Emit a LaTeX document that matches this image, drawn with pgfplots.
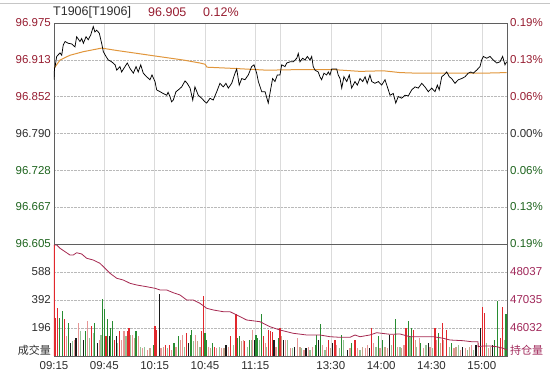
\documentclass[border=0pt]{standalone}
\usepackage{fontspec}
\setmainfont{Liberation Sans}
\newfontfamily\cjk{Noto Sans CJK SC}
\usepackage{pgfplots}
\pgfplotsset{compat=1.18}
\definecolor{upred}{RGB}{150,28,48}
\definecolor{dngreen}{RGB}{30,100,30}
\definecolor{oicol}{RGB}{160,40,90}
\definecolor{oiline}{RGB}{165,40,80}
\definecolor{avgcol}{RGB}{225,150,60}
\definecolor{lblgray}{RGB}{45,45,45}
\definecolor{vred}{RGB}{225,40,45}
\definecolor{vgreen}{RGB}{40,140,50}
\definecolor{vblack}{RGB}{25,25,25}
\definecolor{vpink}{RGB}{230,150,150}
\definecolor{vlgreen}{RGB}{150,195,150}
\definecolor{vtan}{RGB}{200,165,140}
\definecolor{framecol}{RGB}{95,95,95}
\newcommand{\lbl}{\fontsize{11.5}{12}\selectfont}
\pgfplotsset{
  panel/.style={scale only axis, width=453pt, xmin=0, xmax=270,
    major tick length=0pt, scaled ticks=false,
    tick label style={font=\lbl},
    yticklabel style={inner sep=1pt, xshift=-2pt},
    axis line style={framecol, line width=0.7pt},
    xtick={0,30,60,90,120,135,165,195,225,255},
    x grid style={gray!28, line width=0.5pt},
    y grid style={gray!55, densely dotted, line width=0.5pt},
    xmajorgrids, ymajorgrids},
  rightpanel/.style={scale only axis, width=453pt, xmin=0, xmax=270,
    major tick length=0pt, scaled ticks=false,
    tick label style={font=\lbl},
    yticklabel style={inner sep=1pt, xshift=2pt},
    axis x line=none, axis y line*=right,
    axis line style={draw=none}},
}
\begin{document}
\begin{tikzpicture}
% ---------- price pane ----------
\begin{axis}[panel, at={(0,112pt)}, anchor=south west, height=221pt,
  ymin=96.605, ymax=96.975, xticklabels={},
  ytick={96.605,96.667,96.728,96.790,96.852,96.913,96.975},
  yticklabels={\textcolor{dngreen}{96.605},\textcolor{dngreen}{96.667},\textcolor{dngreen}{96.728},\textcolor{lblgray}{96.790},\textcolor{upred}{96.852},\textcolor{upred}{96.913},\textcolor{upred}{96.975}}]
\addplot[avgcol, line width=1pt] coordinates {
(0,96.899)(3.6,96.913)(9.5,96.921)(17.5,96.927)(28.4,96.933)(37.4,96.929)
(57.2,96.921)(77.1,96.913)(87.0,96.908)(90,96.906)(91.2,96.901)(106.9,96.899)
(126.8,96.896)(146.6,96.897)(166.5,96.897)(182.4,96.894)(196.3,96.895)
(206.2,96.892)(216.2,96.891)(236,96.891)(255.9,96.891)(269.8,96.892)};
\addplot[black, line width=0.75pt] coordinates {
(0,96.880)(0.3,96.900)(0.6,96.901)(1.6,96.919)(3.6,96.925)(4.6,96.921)(5.5,96.938)
(6.6,96.944)(8.5,96.941)(10.5,96.940)(12.5,96.935)(13.5,96.952)(15.5,96.944)
(16.5,96.949)(17.5,96.941)(19.1,96.952)(20.4,96.947)(21.9,96.955)(23.4,96.969)
(24.4,96.960)(25.4,96.963)(27.0,96.958)(28.4,96.941)(29.4,96.927)(31.0,96.919)
(32.4,96.913)(34.4,96.910)(36.4,96.905)(37.4,96.896)(39.3,96.902)(40.3,96.893)
(42.3,96.902)(43.7,96.908)(45.3,96.899)(47.3,96.891)(48.9,96.902)(50.2,96.893)
(51.7,96.905)(53.2,96.891)(55.2,96.885)(57.2,96.880)(58.4,96.888)(60.2,96.877)
(61.2,96.863)(63.2,96.860)(65.1,96.857)(67.2,96.854)(68.0,96.859)(69.1,96.852)
(70.1,96.843)(71.1,96.846)(72.7,96.860)(74.1,96.863)(76.1,96.868)(78.1,96.878)
(79.4,96.874)(81.1,96.866)(82.7,96.846)(84.0,96.868)(86.0,96.854)(88.0,96.849)
(90.0,96.843)(91.0,96.841)(93.0,96.849)(94.9,96.846)(97.0,96.860)(98.9,96.874)
(100.9,96.868)(102.5,96.874)(103.9,96.866)(105.9,96.874)(107.9,96.891)(108.9,96.898)
(110.4,96.871)(111.9,96.882)(113.8,96.880)(115.8,96.888)(117.8,96.902)(119.2,96.905)
(120.8,96.891)(121.8,96.877)(123.8,96.860)(125.8,96.860)(127.7,96.841)(128.7,96.857)
(130.3,96.882)(131.7,96.877)(133.1,96.888)(134.7,96.888)(135.7,96.905)(137.7,96.902)
(138.7,96.908)(140.7,96.910)(142.6,96.910)(144.7,96.916)(145.6,96.924)(146.6,96.910)
(148.2,96.916)(149.6,96.913)(151.0,96.919)(152.6,96.913)(153.6,96.919)(154.5,96.902)
(155.6,96.896)(157.5,96.893)(158.5,96.885)(159.5,96.880)(160.9,96.891)(162.5,96.888)
(163.5,96.893)(164.5,96.888)(165.5,96.898)(168.5,96.898)(169.4,96.888)(170.5,96.882)
(171.5,96.866)(172.8,96.885)(174.5,96.877)(176.0,96.888)(177.4,96.866)(179.4,96.877)
(180.8,96.871)(182.4,96.882)(184.0,96.877)(185.4,96.885)(186.7,96.874)(188.3,96.888)
(189.4,96.877)(191.3,96.874)(193.3,96.877)(195.3,96.871)(197.3,96.880)(198.7,96.868)
(200.3,96.854)(202.2,96.857)(203.7,96.841)(205.2,96.852)(207.2,96.849)(209.2,96.854)
(211.2,96.853)(213.2,96.863)(215.2,96.868)(217.1,96.866)(219.2,96.874)(221.1,96.868)
(223.1,96.860)(225.1,96.866)(227.1,96.860)(228.5,96.871)(229.6,96.863)(231.1,96.885)
(232.4,96.888)(234.1,96.893)(235.6,96.885)(237.0,96.882)(239.0,96.874)(241.0,96.880)
(243.0,96.882)(245.0,96.885)(246.9,96.891)(248.4,96.893)(249.9,96.891)(251.9,96.896)
(253.9,96.902)(254.9,96.913)(255.9,96.919)(257.9,96.916)(259.9,96.919)(261.8,96.913)
(263.9,96.908)(265.8,96.910)(267.4,96.919)(268.8,96.905)(269.8,96.910)};
\end{axis}
\begin{axis}[rightpanel, at={(0,112pt)}, anchor=south west, height=221pt,
  ymin=96.605, ymax=96.975,
  ytick={96.605,96.667,96.728,96.790,96.852,96.913,96.975},
  yticklabels={\textcolor{dngreen}{0.19\%},\textcolor{dngreen}{0.13\%},\textcolor{dngreen}{0.06\%},\textcolor{lblgray}{0.00\%},\textcolor{upred}{0.06\%},\textcolor{upred}{0.13\%},\textcolor{upred}{0.19\%}}]
\end{axis}
% ---------- volume pane ----------
\begin{axis}[panel, at={(0,0)}, anchor=south west, height=112pt,
  ymin=0, ymax=784, ytick={196,392,588},
  yticklabels={\textcolor{lblgray}{196},\textcolor{lblgray}{392},\textcolor{lblgray}{588}},
  xticklabels={09:15,09:45,10:15,10:45,11:15,,13:30,14:00,14:30,15:00},
  xticklabel style={text=lblgray, yshift=-2pt},
  clip=true]
\addplot[ycomb, vred, line width=1.1pt] coordinates {
(0,780)(0.6,269)(2.0,335)(6.1,257)(22.2,209)(31.0,138)(35.9,114)(39.3,173)(43.7,173)
(44.7,197)(60.2,209)(61.2,185)(66.2,78)(68.7,78)(79.1,162)(88.0,173)(89.0,423)(95.4,66)
(105.3,138)(108.5,292)(113.8,102)(124.7,138)(128.1,185)(129.2,173)(130.3,166)(134.7,197)
(163.5,114)(167.5,114)(179.4,114)(189.4,197)(202.2,150)(209.8,197)(214.1,185)(227.1,197)
(231.4,233)(234.1,185)(255.5,340)(256.7,304)(266.2,126)(267.4,340)};
\addplot[ycomb, vgreen, line width=1.1pt] coordinates {
(3.2,263)(4.8,316)(8.7,228)(18.9,173)(24.4,233)(29.0,399)(30.0,328)(32.0,257)(33.8,197)
(35.0,245)(48.9,173)(59.2,78)(71.5,90)(74.1,138)(81.1,150)(82.1,185)(90.0,162)(91.0,114)
(94.6,90)(109.5,126)(110.4,138)(116.4,114)(120.4,150)(121.4,126)(123.8,292)(133.7,126)
(155.6,78)(156.6,150)(158.9,221)(171.5,150)(177.4,90)(193.3,138)(195.9,114)(203.7,257)
(211.2,245)(213.2,197)(218.6,90)(229.0,162)(237.0,90)(262.8,114)(264.2,387)(269.4,292)};
\addplot[ycomb, vblack, line width=1.1pt] coordinates {
(9.9,93)(13.1,128)(17.5,114)(25.8,90)(33.0,138)(37.0,138)(62.8,435)(80.0,93)(102.5,78)
(119.4,114)(131.1,114)(136.7,114)(143.6,66)(150.2,55)(157.5,114)(166.1,90)(174.8,43)
(187.9,55)(199.8,150)(223.1,90)(243.6,66)(251.5,78)(254.2,197)(261.5,78)};
\addplot[ycomb, vpink, line width=1.1pt] coordinates {
(7.2,138)(12.1,114)(14.5,228)(20.1,245)(27.0,114)(40.3,114)(41.7,173)(46.9,150)(50.2,138)
(52.9,55)(55.6,43)(63.8,55)(70.1,43)(72.7,66)(75.5,114)(76.7,150)(84.5,150)(92.0,66)
(97.0,55)(99.9,55)(103.9,66)(112.8,114)(118.4,185)(125.8,90)(132.3,66)(137.9,114)
(140.7,55)(145.2,126)(149.0,43)(151.6,66)(154.2,66)(160.1,78)(162.5,66)(168.5,78)
(176.4,55)(180.8,55)(185.4,55)(186.7,78)(190.3,90)(194.3,55)(198.7,55)(204.6,66)
(208.6,78)(217.7,126)(220.1,55)(224.1,66)(228.1,114)(232.4,114)(238.4,55)(242.4,43)
(245.0,55)(248.9,78)(252.8,90)(258.8,55)(265.4,66)};
\addplot[ycomb, vlgreen, line width=1.1pt] coordinates {
(10.9,102)(15.9,173)(21.0,128)(23.4,162)(28.0,150)(38.1,90)(42.9,138)(45.7,150)(51.3,66)
(54.2,66)(67.5,55)(77.7,66)(83.0,102)(87.0,66)(98.5,66)(106.9,78)(115.2,66)(117.8,114)
(122.4,114)(126.8,66)(139.1,114)(142.3,55)(147.6,55)(152.6,43)(161.5,43)(170.0,55)
(172.4,114)(182.4,43)(191.9,66)(201.3,78)(206.2,66)(212.2,138)(216.2,66)(221.7,78)
(225.7,55)(235.6,66)(241.0,78)(246.3,43)(250.3,43)(257.9,90)(268.4,114)};
\addplot[ycomb, vtan, line width=1.1pt] coordinates {
(48.1,128)(57.2,55)(65.1,66)(85.6,102)(93.4,55)(101.3,55)(111.9,102)(135.7,138)(146.6,66)
(164.9,55)(184.0,66)(197.3,66)(207.2,55)(215.2,114)(230.1,90)(239.6,66)(247.5,66)(259.9,66)};
\end{axis}
\begin{axis}[rightpanel, at={(0,0)}, anchor=south west, height=112pt,
  ymin=45030, ymax=49040, ytick={46032,47035,48037},
  yticklabels={\textcolor{oicol}{46032},\textcolor{oicol}{47035},\textcolor{oicol}{48037}}]
\addplot[oiline, line width=0.8pt] coordinates {
(0,49004)(1.6,49004)(3.6,48886)(6.6,48764)(9.5,48646)(11.5,48646)(13.5,48728)(16.5,48682)
(19.5,48528)(23.4,48467)(27.4,48349)(30.4,48170)(33.4,47991)(37.4,47812)(41.3,47751)
(45.3,47633)(49.3,47572)(55.2,47511)(60.2,47454)(63.2,47393)(67.2,47393)(71.1,47296)
(75.1,47214)(79.1,47035)(83.0,47035)(87.0,46917)(91.0,46738)(95.0,46677)(100.9,46616)
(104.9,46616)(108.9,46498)(114.8,46319)(122.8,46258)(128.7,46079)(134.7,45961)
(142.6,45843)(150.6,45782)(158.5,45782)(164.5,45721)(170.5,45699)(176.4,45699)
(179.4,45782)(182.4,45721)(188.3,45782)(192.3,45864)(200.3,45807)(206.2,45818)
(212.2,45721)(226.1,45721)(232.0,45664)(236.0,45603)(243.9,45578)(248.9,45542)
(252.7,45542)(252.8,45363)(255.8,45388)(259.8,45388)(263.8,45363)(267.8,45306)(269.8,45245)};
\end{axis}
% ---------- texts ----------
\node[anchor=east, inner sep=1pt, text=lblgray, font=\cjk\fontsize{11}{12}\selectfont] at (-2pt,6pt) {成交量};
\node[anchor=west, inner sep=1pt, text=oicol, font=\cjk\fontsize{11}{12}\selectfont] at (455pt,6pt) {持仓量};
\node[anchor=west, inner sep=0pt, text=lblgray, font=\fontsize{12.5}{13}\selectfont] at (-1pt,344pt) {T1906[T1906]};
\node[anchor=west, inner sep=0pt, text=upred, font=\fontsize{12.5}{13}\selectfont] at (94pt,344pt) {96.905};
\node[anchor=west, inner sep=0pt, text=upred, font=\fontsize{12.5}{13}\selectfont] at (149pt,344pt) {0.12\%};
\draw[gray!45, line width=0.6pt] (-54pt,353pt) -- (496pt,353pt);
\pgfresetboundingbox
\path[use as bounding box] (-54pt,-19pt) rectangle (496pt,356pt);
\end{tikzpicture}
\end{document}
